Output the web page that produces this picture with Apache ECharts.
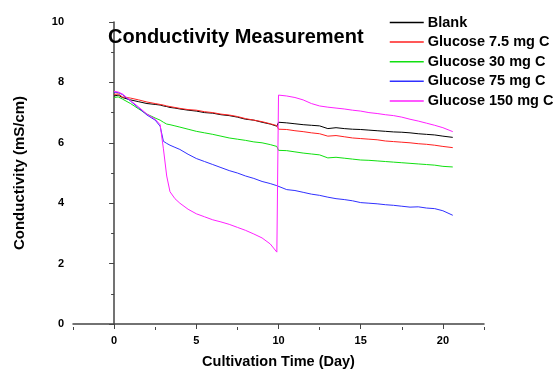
<!DOCTYPE html>
<html>
<head>
<meta charset="utf-8">
<script src="https://cdn.jsdelivr.net/npm/echarts@6/dist/echarts.min.js"></script>
<style>
	html, body { margin: 0; padding: 0; background: #fff; }
	#chart { width: 560px; height: 374px; }
</style>
</head>
<body>
<div id="chart"></div>
<script>
// sampled days (shared by all curves)
const days = [0, 0.25, 0.5, 1, 1.5, 2, 2.5, 2.8, 3.0, 3.2, 3.4, 3.7, 4, 4.5, 5, 5.5, 6, 6.5, 7, 7.5, 8, 8.5, 9, 9.5, 9.9,
	10.0, 10.5, 11, 11.5, 12, 12.5, 13, 13.5, 14, 14.5, 15, 15.5, 16, 16.5, 17, 17.5, 18, 18.5, 19, 19.5, 20, 20.6]

const blank = [7.55, 7.58, 7.5, 7.42, 7.36, 7.3, 7.27, 7.25, 7.22, 7.2, 7.17, 7.15, 7.12, 7.08, 7.05, 7.0, 6.98, 6.93, 6.9, 6.85, 6.78, 6.75, 6.68, 6.62, 6.55,
	6.68, 6.66, 6.63, 6.6, 6.58, 6.56, 6.47, 6.5, 6.47, 6.45, 6.44, 6.42, 6.4, 6.38, 6.36, 6.35, 6.33, 6.3, 6.28, 6.26, 6.22, 6.18]
const glucose7_5 = [7.6, 7.62, 7.52, 7.48, 7.42, 7.35, 7.3, 7.27, 7.25, 7.22, 7.2, 7.17, 7.14, 7.1, 7.08, 7.03, 7.0, 6.95, 6.92, 6.87, 6.8, 6.75, 6.7, 6.63, 6.57,
	6.45, 6.44, 6.4, 6.37, 6.33, 6.3, 6.22, 6.24, 6.2, 6.16, 6.14, 6.12, 6.1, 6.06, 6.04, 6.02, 6.0, 5.97, 5.95, 5.92, 5.88, 5.84]
const glucose30 = [7.5, 7.52, 7.45, 7.3, 7.12, 6.95, 6.82, 6.75, 6.68, 6.62, 6.6, 6.56, 6.52, 6.45, 6.38, 6.33, 6.28, 6.22, 6.16, 6.12, 6.08, 6.03, 6.0, 5.94, 5.88,
	5.75, 5.74, 5.7, 5.66, 5.63, 5.6, 5.5, 5.52, 5.49, 5.46, 5.43, 5.42, 5.4, 5.38, 5.36, 5.34, 5.32, 5.3, 5.28, 5.26, 5.22, 5.2]
const glucose75 = [7.68, 7.66, 7.6, 7.38, 7.15, 6.92, 6.75, 6.55, 6.05, 5.98, 5.92, 5.85, 5.78, 5.62, 5.48, 5.38, 5.28, 5.18, 5.08, 5.0, 4.9, 4.82, 4.72, 4.65, 4.58,
	4.52, 4.45, 4.42, 4.36, 4.3, 4.26, 4.2, 4.15, 4.12, 4.08, 4.02, 4.0, 3.98, 3.95, 3.93, 3.9, 3.87, 3.88, 3.84, 3.82, 3.75, 3.6]
const glucose150 = [7.7, 7.68, 7.62, 7.4, 7.18, 6.95, 6.78, 6.6, 5.8, 4.9, 4.38, 4.15, 4.0, 3.8, 3.65, 3.55, 3.45, 3.38, 3.3, 3.2, 3.1, 2.98, 2.85, 2.65, 2.38,
	7.58, 7.55, 7.5, 7.42, 7.3, 7.22, 7.18, 7.15, 7.12, 7.08, 7.05, 7.0, 6.97, 6.93, 6.9, 6.85, 6.78, 6.72, 6.65, 6.58, 6.5, 6.37]

const seriesNames = ['Blank', 'Glucose 7.5 mg C', 'Glucose 30 mg C', 'Glucose 75 mg C', 'Glucose 150 mg C']
const seriesValues = [blank, glucose7_5, glucose30, glucose75, glucose150]
const seriesColors = ['#000000', '#ff2020', '#10e010', '#3030ff', '#ff20ff']

const xMajorTicks = [0, 5, 10, 15, 20]

const font = 'Arial, "Liberation Sans", sans-serif'
const axisColor = '#444'
const gridBox = { left: 73, right: 76, top: 22, bottom: 47 }

const chart = echarts.init(document.getElementById('chart'), null, { renderer: 'canvas' })

const series = seriesNames.map((name, i) => ({
	name,
	type: 'line',
	xAxisIndex: 0,
	yAxisIndex: 0,
	symbol: 'none',
	showSymbol: false,
	lineStyle: { width: 1, color: seriesColors[i] },
	itemStyle: { color: seriesColors[i] },
	data: days.map((d, k) => [d, seriesValues[i][k]])
}))

chart.setOption({
	animation: false,
	backgroundColor: '#fff',
	title: {
		text: 'Conductivity Measurement',
		left: 103,
		top: 22,
		textStyle: { fontFamily: font, fontSize: 20, fontWeight: 'bold', color: '#000' }
	},
	legend: {
		orient: 'vertical',
		left: 384,
		top: 10,
		itemWidth: 34,
		itemHeight: 14,
		itemGap: 4.6,
		data: seriesNames,
		itemStyle: { opacity: 0 },
		lineStyle: { width: 1.5 },
		textStyle: { fontFamily: font, fontSize: 14.5, fontWeight: 'bold', color: '#000', padding: [0, 0, 0, -1] }
	},
	// second grid on top of the first, only for the minor x ticks
	grid: [gridBox, gridBox],
	xAxis: [
		{
			type: 'value',
			gridIndex: 0,
			min: -2.5,
			max: 22.5,
			name: 'Cultivation Time (Day)',
			nameLocation: 'middle',
			nameGap: 30,
			nameTextStyle: { fontFamily: font, fontSize: 14.5, fontWeight: 'bold', color: '#000' },
			splitLine: { show: false },
			axisLine: { lineStyle: { color: axisColor, width: 1.5 } },
			axisTick: { customValues: xMajorTicks, length: 5, lineStyle: { color: axisColor } },
			axisLabel: {
				customValues: xMajorTicks,
				fontFamily: font, fontSize: 11, fontWeight: 'bold', color: '#000', margin: 11
			}
		},
		{
			type: 'value',
			gridIndex: 1,
			position: 'bottom',
			min: -2.5,
			max: 22.5,
			interval: 5,
			axisLine: { show: true, lineStyle: { color: 'rgba(0,0,0,0)' } },
			splitLine: { show: false },
			axisLabel: { show: false },
			axisTick: { show: true, length: 3, lineStyle: { color: axisColor } }
		}
	],
	yAxis: [
		{
			type: 'value',
			gridIndex: 0,
			min: 0,
			max: 10,
			interval: 2,
			name: 'Conductivity (mS/cm)',
			nameLocation: 'middle',
			nameGap: 46,
			nameTextStyle: { fontFamily: font, fontSize: 15, fontWeight: 'bold', color: '#000' },
			splitLine: { show: false },
			axisLine: { show: true, lineStyle: { color: axisColor, width: 1.5 } },
			axisTick: { show: true, length: 5, lineStyle: { color: axisColor } },
			minorTick: { show: true, splitNumber: 2, length: 3, lineStyle: { color: axisColor } },
			axisLabel: { fontFamily: font, fontSize: 11, fontWeight: 'bold', color: '#000', margin: 9 }
		},
		{
			type: 'value',
			gridIndex: 1,
			min: 0,
			max: 10,
			show: false
		}
	],
	series
})
</script>
</body>
</html>
